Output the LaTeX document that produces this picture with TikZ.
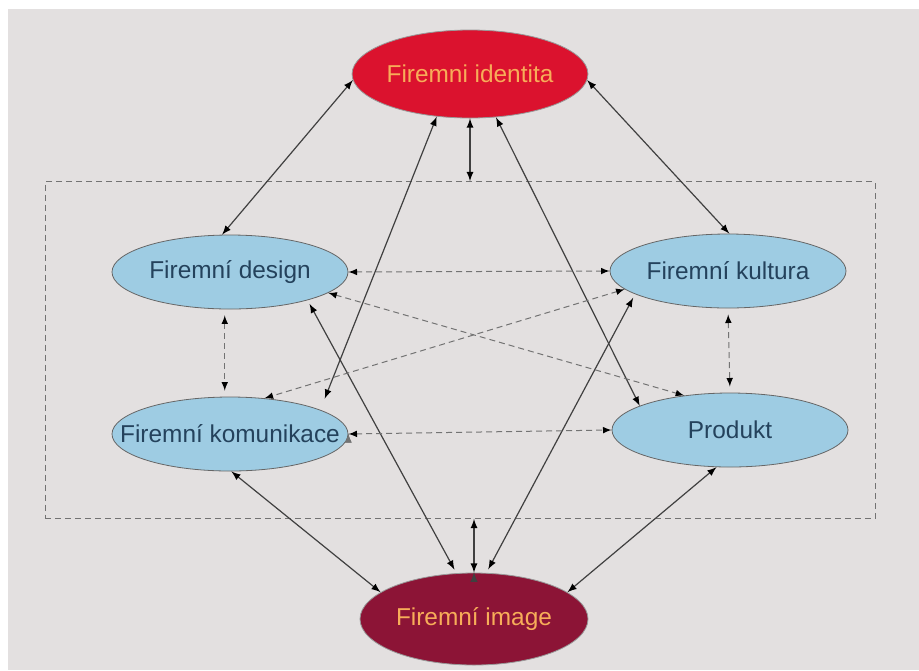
\documentclass[tikz,border=0pt]{standalone}
\usepackage{fontspec}
\setmainfont{Liberation Sans}
\usetikzlibrary{arrows,shapes}
\definecolor{fond}{rgb}{0.89, 0.88, 0.88}
\definecolor{rouge}{rgb}{0.86, 0.07, 0.18}
\definecolor{bordeaux}{rgb}{0.55, 0.08, 0.21}
\definecolor{bleu}{rgb}{0.62, 0.80, 0.89}
\definecolor{texteorange}{rgb}{0.97, 0.68, 0.35}
\definecolor{textebleu}{rgb}{0.14, 0.26, 0.36}
\definecolor{fleche}{rgb}{0.25, 0.25, 0.25}
\definecolor{grisclair}{rgb}{0.45, 0.45, 0.45}

\begin{document}
\begin{tikzpicture}[x=0.5pt,y=-0.5pt,<->,>=latex]
	\tikzstyle{pole}=[ellipse, inner sep=0pt, draw=black!40, text=texteorange, font=\fontsize{12.2}{14}\selectfont]
	\tikzstyle{bloc}=[ellipse, inner ysep=0pt, inner xsep=-16pt, minimum width=118pt, minimum height=37pt, fill=bleu, draw=black!60, text=textebleu, font=\fontsize{12.2}{14}\selectfont]
	\tikzstyle{cadre}=[rectangle, draw=grisclair, densely dashed, line width=0.4pt, minimum width=415pt, minimum height=168.5pt]
	\tikzstyle{trait}=[draw=fleche, line width=0.6pt]
	\tikzstyle{pointille}=[draw=grisclair, line width=0.5pt, densely dashed]

	% FOND
	\fill[fond] (8,9) rectangle (919,670);
	\useasboundingbox (0,0) rectangle (919,670);

	% CADRE
	\node[cadre] (cadre) at (460,350) {};

	% POLES
	\node[pole, fill=rouge, minimum width=112pt, minimum height=44pt] (identita) at (470,74) {Firemni identita};
	\node[pole, fill=bordeaux, minimum width=114pt, minimum height=46pt] (image) at (474,619) {Firemní image};

	% BLOCS
	\node[bloc] (design) at (230,272) {Firemní design};
	\node[bloc] (kultura) at (728,271) {Firemní kultura};
	\node[bloc] (komunikace) at (230,434) {Firemní komunikace};
	\node[bloc] (produkt) at (730,430) {Produkt};

	% LIENS
	\path[trait]
		(identita.183) edge (design.102)
		(identita.357) edge (kultura.88)
		(identita.south) edge (identita.south |- cadre.north)
		(identita.232) edge [shorten >=6pt] (komunikace.15)
		(identita.301) edge (produkt.165)
		(design.340) edge [shorten <=2pt, shorten >=2pt] (image.111)
		(kultura.194) edge [shorten <=2pt, shorten >=2pt] (image.75)
		(komunikace.272) edge (image.164)
		(produkt.250) edge (image.16)
		(image.north) edge (image.north |- cadre.south)
	;

	\path[pointille]
		(design.0) edge (kultura.180)
		(design.348) edge (produkt.143)
		(kultura.190) edge (komunikace.46)
		(design.262) edge [shorten <=3pt, shorten >=3pt] (komunikace.98)
		(kultura.270) edge [shorten <=3pt, shorten >=3pt] (produkt.90)
		(komunikace.0) edge (produkt.180)
	;
\end{tikzpicture}
\end{document}
